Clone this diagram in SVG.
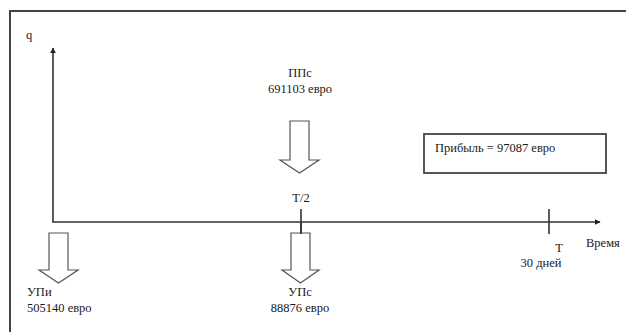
<svg xmlns="http://www.w3.org/2000/svg" width="626" height="332" viewBox="0 0 626 332" font-family="'Liberation Serif','Times New Roman',serif">
<style>
text{font-family:"Liberation Serif","Times New Roman",serif;font-size:12.5px;fill:#1a1a1a}
.ax{stroke:#333;stroke-width:1.6;fill:none}
.blk{fill:#fff;stroke:#555;stroke-width:1.2;stroke-linejoin:miter}
.m{text-anchor:middle}
</style>
<defs>
<marker id="ah" viewBox="0 0 10 10" refX="9" refY="5" markerWidth="6" markerHeight="6" orient="auto" markerUnits="userSpaceOnUse">
<path d="M0,0 L10,5 L0,10 z" fill="#222"/>
</marker>
</defs>
<rect x="0" y="0" width="626" height="332" fill="#fff"/>
<path d="M10,340 V11 H630" fill="none" stroke="#444" stroke-width="2"/>
<g id="connectors">
<line class="ax" x1="53" y1="222" x2="53" y2="48" marker-end="url(#ah)"/>
<line class="ax" x1="52.2" y1="222" x2="600" y2="222" marker-end="url(#ah)"/>
<line class="ax" x1="301" y1="209" x2="301" y2="234"/>
<line class="ax" x1="549" y1="209" x2="549" y2="234"/>
</g>
<g id="q-axis"><text x="26" y="39">q</text></g>
<g id="time-axis"><text x="586" y="247">Время</text></g>
<g id="T2"><text class="m" x="301" y="202">T/2</text></g>
<g id="T"><text class="m" x="559" y="252">T</text><text class="m" x="541" y="267">30 дней</text></g>
<g id="PPs">
<text class="m" x="300" y="77">ППс</text>
<text class="m" x="300" y="93">691103 евро</text>
<path class="blk" d="M290,121 H309 V160 H319 L299.5,173 L280,160 H290 Z"/>
</g>
<g id="UPs">
<path class="blk" d="M291,233 H310 V270 H319 L300.5,283 L282,270 H291 Z"/>
<line class="ax" x1="301" y1="222" x2="301" y2="234"/>
<text class="m" x="300" y="296">УПс</text>
<text class="m" x="300" y="312">88876 евро</text>
</g>
<g id="UPi">
<path class="blk" d="M49,233 H68 V270 H78 L58.5,283 L39,270 H49 Z"/>
<text x="27" y="296">УПи</text>
<text x="27" y="312">505140 евро</text>
</g>
<g id="profit">
<rect x="424" y="134" width="182" height="39" fill="#fff" stroke="#444" stroke-width="1.8"/>
<text x="435" y="152">Прибыль = 97087 евро</text>
</g>
</svg>
